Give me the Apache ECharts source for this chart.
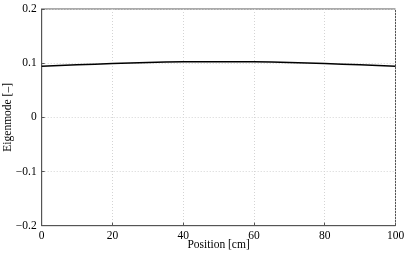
<!DOCTYPE html>
<html>
<head>
<meta charset="utf-8">
<script src="https://cdn.jsdelivr.net/npm/echarts@6/dist/echarts.min.js"></script>
<style>html,body{margin:0;padding:0;background:#fff;}#c{width:407px;height:253px;}</style>
</head>
<body>
<div id="c"></div>
<script>
const positions = [0, 10, 20, 30, 40, 50, 60, 70, 80, 90, 100];
const eigenmode = [0.0945, 0.0970, 0.0993, 0.1012, 0.1024, 0.1028, 0.1024, 0.1012, 0.0993, 0.0970, 0.0945];
const xTicks = [0, 20, 40, 60, 80, 100];
const yTicks = [-0.2, -0.1, 0, 0.1, 0.2];

const font = 'Liberation Serif';
const chart = echarts.init(document.getElementById('c'));
const fmt = v => String(Math.round(v * 1000) / 1000).replace('-', '\u2212');
chart.setOption({
  animation: false,
  grid: {left: 41.7, right: 11.5, top: 9, bottom: 27.3, containLabel: false, outerBoundsMode: 'none',
         show: true, borderColor: '#555', borderWidth: 1, backgroundColor: '#fff'},
  xAxis: {
    type: 'value', min: 0, max: 100, interval: 20,
    name: 'Position [cm]', nameLocation: 'middle', nameGap: 13, nameMoveOverlap: false,
    nameTextStyle: {fontFamily: font, fontSize: 11.5, color: '#000'},
    axisLine: {show: true, onZero: false, lineStyle: {color: '#555'}},
    axisTick: {show: true, inside: true, length: 3, lineStyle: {color: '#555'}},
    axisLabel: {fontFamily: font, fontSize: 11.5, color: '#000', margin: 4, formatter: fmt},
    splitLine: {show: true, lineStyle: {color: '#d4d4d4', type: [1, 2], width: 1}}
  },
  yAxis: {
    type: 'value', min: -0.2, max: 0.2, interval: 0.1,
    name: 'Eigenmode [\u2013]', nameLocation: 'middle', nameGap: 28, nameMoveOverlap: false,
    nameTextStyle: {fontFamily: font, fontSize: 11.5, color: '#000'},
    axisLine: {show: true, onZero: false, lineStyle: {color: '#555'}},
    axisTick: {show: true, inside: true, length: 3, lineStyle: {color: '#555'}},
    axisLabel: {fontFamily: font, fontSize: 11.5, color: '#000', margin: 5, formatter: fmt},
    splitLine: {show: true, lineStyle: {color: '#d4d4d4', type: [1, 2], width: 1}}
  },
  series: [{
    type: 'line', data: positions.map((p, i) => [p, eigenmode[i]]),
    smooth: true, symbol: 'none', lineStyle: {color: '#000', width: 1.5}
  }]
});
</script>
</body>
</html>
